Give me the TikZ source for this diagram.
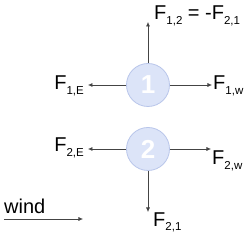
\documentclass[tikz,border=0pt]{standalone}
\usepackage{fontspec}
\setmainfont{Liberation Sans}
\usetikzlibrary{arrows.meta}
\definecolor{discfill}{HTML}{DCE4F8}
\definecolor{discline}{HTML}{B8C5EA}
\definecolor{forcegray}{HTML}{444444}
\newcommand{\force}[1]{F\raisebox{-0.45ex}{\fontsize{11.5}{11.5}\selectfont #1}}
\tikzset{
  disc/.style={circle, fill=discfill, draw=discline, line width=0.8pt, minimum size=43pt, inner sep=0pt,
    text=white, font=\fontsize{26}{26}\selectfont\bfseries},
  force/.style={draw=forcegray, line width=0.6pt, -{Latex[length=4.5pt, width=4pt]}},
  lbl/.style={inner sep=1pt, font=\fontsize{20}{20}\selectfont}
}
\begin{document}
\begin{tikzpicture}[x=1pt, y=1pt]
  \useasboundingbox (0,0) rectangle (250,235);
  % the two bodies
  \node[disc] (one) at (148,150) {1};
  \node[disc] (two) at (148,86) {2};
  % forces on body 1
  \coordinate (oneN) at (148,213);
  \coordinate (oneW) at (88,150);
  \coordinate (oneE) at (212,150);
  \draw[force] (one.north) -- (oneN);
  \draw[force] (one.west) -- (oneW);
  \draw[force] (one.east) -- (oneE);
  \node[lbl, anchor=west] (f12) at (153,219) {\force{1,2} = -\force{2,1}};
  \node[lbl, anchor=east] (f1e) at (85,149) {\force{1,E}};
  \node[lbl, anchor=west] (f1w) at (212,149) {\force{1,w}};
  % forces on body 2
  \coordinate (twoS) at (148,23);
  \coordinate (twoW) at (88,86);
  \coordinate (twoE) at (211,86);
  \draw[force] (two.south) -- (twoS);
  \draw[force] (two.west) -- (twoW);
  \draw[force] (two.east) -- (twoE);
  \node[lbl, anchor=east] (f2e) at (85,87) {\force{2,E}};
  \node[lbl, anchor=north west] (f2w) at (211,85) {\force{2,w}};
  \node[lbl, anchor=south west] (f21) at (152,1.5) {\force{2,1}};
  % wind
  \coordinate (windA) at (4,16);
  \coordinate (windB) at (83,16);
  \draw[force] (windA) -- (windB);
  \node[lbl, anchor=base west] (wind) at (3,21) {wind};
\end{tikzpicture}
\end{document}
